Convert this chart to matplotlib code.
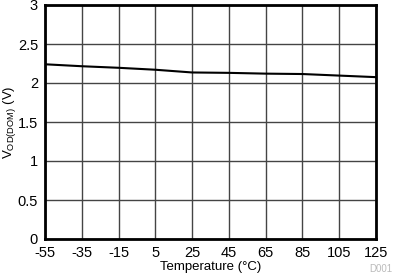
import matplotlib
matplotlib.use("Agg")
import matplotlib.pyplot as plt

plt.rcParams['font.family'] = ['Liberation Sans', 'DejaVu Sans']
plt.rcParams['axes.unicode_minus'] = False

temp = [-55, -35, -15, 5, 25, 45, 65, 85, 105, 125]
vod = [2.24, 2.215, 2.195, 2.17, 2.135, 2.13, 2.12, 2.115, 2.095, 2.075]
xticks = [-55, -35, -15, 5, 25, 45, 65, 85, 105, 125]
yticks = [0, 0.5, 1, 1.5, 2, 2.5, 3]
ylabels = ['0', '0.5', '1', '1.5', '2', '2.5', '3']

fig = plt.figure(figsize=(3.94, 2.77), dpi=100)
ax = fig.add_axes([45/394, 38/277, 331/394, 234/277])

ax.plot(temp, vod, color='black', lw=1.5, zorder=3)
ax.set_xlim(-55, 125)
ax.set_ylim(0, 3)
ax.set_xticks(xticks)
ax.set_yticks(yticks)
ax.set_yticklabels(ylabels)
ax.grid(True, color='#444444', lw=1)
ax.tick_params(length=0, labelsize=10.5, pad=5)
for s in ax.spines.values():
    s.set_linewidth(2)
    s.set_color('black')

ax.set_xlabel('Temperature (°C)', fontsize=9.5, labelpad=1)
ax.set_ylabel('V$_{\\mathregular{OD(DOM)}}$ (V)', fontsize=9.5)
ax.yaxis.set_label_coords(-27/331, 0.5)
fig.text(392/394, 3/277, 'D001', fontsize=7, color='#bbbbbb', ha='right', va='bottom')

fig.savefig('out.png', dpi=100)
